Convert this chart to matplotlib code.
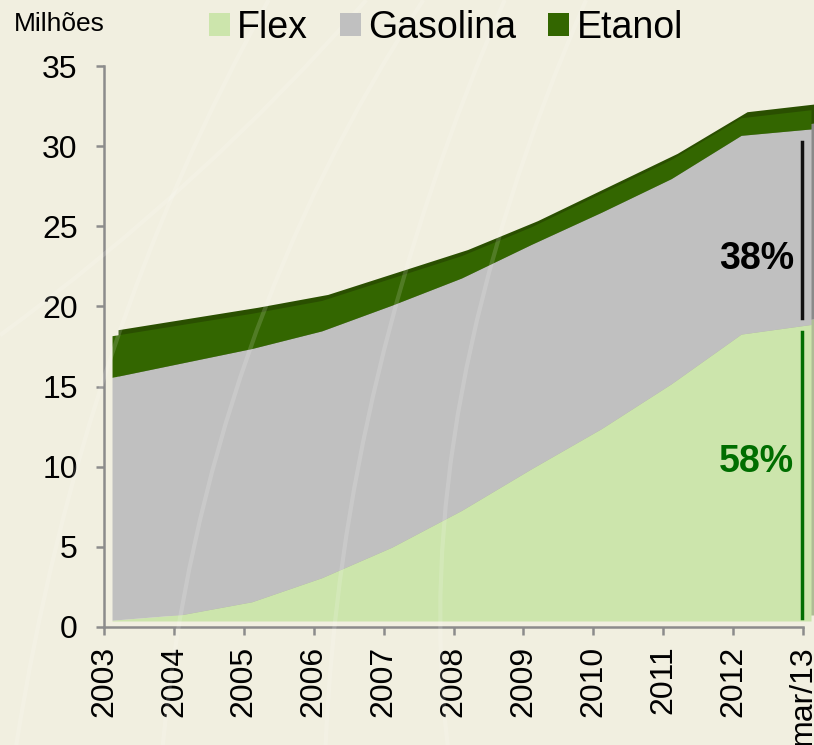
import matplotlib
matplotlib.use('Agg')
import matplotlib.pyplot as plt
from matplotlib.patches import Patch, PathPatch
from matplotlib.path import Path
from matplotlib.transforms import offset_copy
import numpy as np

plt.rcParams['font.family'] = ['Liberation Sans', 'DejaVu Sans']

# frota de veiculos leves (milhoes)
anos = ['2003', '2004', '2005', '2006', '2007', '2008', '2009', '2010', '2011', '2012', 'mar/13']
flex = [0.05, 0.4, 1.2, 2.7, 4.6, 6.9, 9.5, 12.0, 14.8, 17.9, 18.5]
gasolina = [15.15, 15.7, 15.8, 15.4, 15.1, 14.5, 14.0, 13.5, 12.8, 12.4, 12.2]
etanol = [2.6, 2.4, 2.2, 1.9, 1.7, 1.4, 1.1, 1.2, 1.2, 1.1, 1.2]

cores = {'Flex': '#cce5ac', 'Gasolina': '#c0c0c0', 'Etanol': '#336600'}
cores_lado = {'Flex': '#aebd95', 'Gasolina': '#8a8a8a', 'Etanol': '#2a4f00'}

fig = plt.figure(figsize=(8.14, 7.45), dpi=100)
fig.patch.set_facecolor('#f1efe0')

# faint decorative curves in the background
for (p0, p1, p2) in [((0.02, 0.0), (0.10, 0.55), (0.33, 1.0)),
                     ((0.20, 0.0), (0.25, 0.55), (0.52, 1.0)),
                     ((0.40, 0.0), (0.42, 0.5), (0.62, 1.0)),
                     ((0.55, 0.0), (0.50, 0.45), (0.72, 1.0)),
                     ((0.0, 0.55), (0.25, 0.75), (0.45, 1.0))]:
    path = Path([p0, p1, p2], [Path.MOVETO, Path.CURVE3, Path.CURVE3])
    fig.add_artist(PathPatch(path, transform=fig.transFigure, fill=False,
                             edgecolor='white', lw=3, alpha=0.15))

ax = fig.add_axes([0.1278, 0.1584, 0.8587, 0.753])
ax.set_facecolor('none')

x = np.arange(len(anos))
f = np.array(flex)
g = f + np.array(gasolina)
t = g + np.array(etanol)

# 3D look: back face (darker) + front face offset from the axis
front = offset_copy(ax.transData, fig=fig, x=8, y=6, units='dots')
back = offset_copy(ax.transData, fig=fig, x=14, y=12, units='dots')

camadas = [('Flex', np.zeros_like(f), f), ('Gasolina', f, g), ('Etanol', g, t)]
for nome, lo, hi in camadas:
    ax.fill_between(x, lo, hi, color=cores_lado[nome], lw=0, transform=back, clip_on=False)
for nome, lo, hi in camadas:
    ax.fill_between(x, lo, hi, color=cores[nome], lw=0, transform=front, clip_on=False)

# share markers at the last point
total = t[-1]
marca = offset_copy(front, fig=fig, x=-9, y=0, units='dots')
ax.plot([x[-1], x[-1]], [f[-1] + 0.4, g[-1] - 0.8], color='#111111', lw=2.5, transform=marca, clip_on=False)
ax.plot([x[-1], x[-1]], [0.2, f[-1] - 0.5], color='#006e00', lw=2.5, transform=marca, clip_on=False)
lbl = offset_copy(front, fig=fig, x=-17, y=0, units='dots')
ax.text(x[-1], 22.6, f'{gasolina[-1] / total * 100:.0f}%', ha='right', va='center',
        fontsize=27, fontweight='bold', color='black', transform=lbl)
ax.text(x[-1], 9.9, f'{flex[-1] / total * 100:.0f}%', ha='right', va='center',
        fontsize=27, fontweight='bold', color='#006e00', transform=lbl)

ax.set_xlim(0, 10)
ax.set_ylim(0, 35)
ax.set_yticks(range(0, 36, 5))
ax.set_xticks(x, anos, rotation=90, va='top', ha='center')
for s in ['top', 'right']:
    ax.spines[s].set_visible(False)
for s in ['left', 'bottom']:
    ax.spines[s].set_color('#8c8c8c')
    ax.spines[s].set_linewidth(1.8)
ax.tick_params(axis='y', direction='out', length=6, width=1.8, color='#8c8c8c', pad=13, labelsize=23)
ax.tick_params(axis='x', direction='out', length=5.5, width=1.8, color='#8c8c8c', pad=8, labelsize=23)

fig.text(0.017, 0.968, 'Milhões', fontsize=19, va='center', ha='left')
handles = [Patch(facecolor=cores[n], edgecolor='none', label=n) for n in ['Flex', 'Gasolina', 'Etanol']]
fig.legend(handles=handles, loc='center', bbox_to_anchor=(0.548, 0.963), ncol=3, frameon=False,
           fontsize=27, handlelength=0.56, handleheight=0.56, handletextpad=0.2, columnspacing=0.85,
           borderaxespad=0, borderpad=0)

fig.savefig('out.png', dpi=100, facecolor=fig.get_facecolor())
